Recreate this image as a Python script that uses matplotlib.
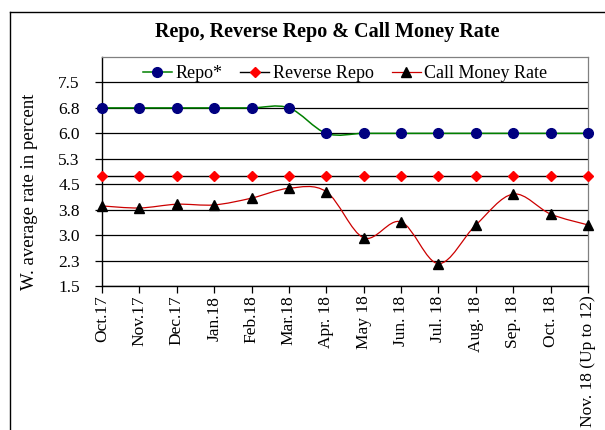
import matplotlib
matplotlib.use('Agg')
import matplotlib.pyplot as plt
from matplotlib.path import Path
from matplotlib.patches import PathPatch
from matplotlib.lines import Line2D

plt.rcParams['font.family'] = ['Liberation Serif', 'DejaVu Serif']

# datos
months = ['Oct.17', 'Nov.17', 'Dec.17', 'Jan.18', 'Feb.18', 'Mar.18', 'Apr. 18',
          'May 18', 'Jun. 18', 'Jul. 18', 'Aug. 18', 'Sep. 18', 'Oct. 18',
          'Nov. 18 (Up to 12)']
repo = [6.75, 6.75, 6.75, 6.75, 6.75, 6.75, 6.0, 6.0, 6.0, 6.0, 6.0, 6.0, 6.0, 6.0]
reverse_repo = [4.75] * 14
call_money = [3.86, 3.80, 3.91, 3.89, 4.09, 4.38, 4.28, 2.92, 3.39, 2.16, 3.30,
              4.21, 3.62, 3.30]
y_ticks = [1.5, 2.25, 3.0, 3.75, 4.5, 5.25, 6.0, 6.75, 7.5]
y_labels = ['1.5', '2.3', '3.0', '3.8', '4.5', '5.3', '6.0', '6.8', '7.5']


def smooth_path(xs, ys):
    # curva suavizada tipo Excel (Bezier con puntos de control de Catmull-Rom)
    n = len(xs)
    verts = [(xs[0], ys[0])]
    codes = [Path.MOVETO]
    for i in range(n - 1):
        i0 = max(i - 1, 0)
        i3 = min(i + 2, n - 1)
        c1 = (xs[i] + (xs[i + 1] - xs[i0]) / 6, ys[i] + (ys[i + 1] - ys[i0]) / 6)
        c2 = (xs[i + 1] - (xs[i3] - xs[i]) / 6, ys[i + 1] - (ys[i3] - ys[i]) / 6)
        verts += [c1, c2, (xs[i + 1], ys[i + 1])]
        codes += [Path.CURVE4] * 3
    return Path(verts, codes)


x = list(range(len(months)))

fig = plt.figure(figsize=(6.05, 4.3), dpi=100)
ax = fig.add_axes([102 / 605, 1 - 286 / 430, (588 - 102) / 605, (286 - 57) / 430])

for t in y_ticks:
    ax.axhline(t, color='black', lw=0.9, zorder=1)

ax.add_patch(PathPatch(smooth_path(x, repo), fill=False, edgecolor='#008000', lw=1.1, zorder=3))
ax.plot(x, repo, ls='none', marker='o', ms=7, color='#000080', zorder=4, clip_on=False)

ax.plot(x, reverse_repo, color='black', lw=1.0, zorder=3)
ax.plot(x, reverse_repo, ls='none', marker='D', ms=4.8, color='#FF0000', zorder=4, clip_on=False)

ax.add_patch(PathPatch(smooth_path(x, call_money), fill=False, edgecolor='#CC0000', lw=0.9, zorder=3))
ax.plot(x, call_money, ls='none', marker='^', ms=7, color='black', zorder=4, clip_on=False)

ax.set_xlim(0, 13)
ax.set_ylim(1.5, 8.25)
ax.set_yticks(y_ticks)
ax.set_yticklabels(y_labels, fontsize=12.5)
ax.set_xticks(x)
ax.set_xticklabels(months, rotation=90, fontsize=12.5)
ax.tick_params(axis='both', direction='out', length=5, width=0.9, color='black')
ax.tick_params(axis='y', pad=11)
ax.tick_params(axis='x', pad=2)

for s in ['top', 'right']:
    ax.spines[s].set_color('#808080')
    ax.spines[s].set_linewidth(0.9)
for s in ['left', 'bottom']:
    ax.spines[s].set_color('black')
    ax.spines[s].set_linewidth(1.0)

handles = [
    Line2D([], [], color='#008000', marker='o', ms=7, mfc='#000080', mec='#000080', lw=1.1),
    Line2D([], [], color='black', marker='D', ms=4.8, mfc='#FF0000', mec='#FF0000', lw=1.0),
    Line2D([], [], color='#CC0000', marker='^', ms=7, mfc='black', mec='black', lw=0.9),
]
ax.legend(handles, ['Repo*', 'Reverse Repo', 'Call Money Rate'], loc='upper center',
          bbox_to_anchor=(0.5, 1.0), ncol=3, frameon=False, fontsize=13,
          handlelength=1.6, handletextpad=0.2, columnspacing=1.0, borderaxespad=0.05)

fig.text(327 / 605, 1 - 32 / 430, 'Repo, Reverse Repo & Call Money Rate',
         ha='center', va='center', fontsize=14.5, fontweight='bold')
fig.text(30 / 605, 1 - 192 / 430, 'W. average rate in percent', rotation=90,
         ha='center', va='center', fontsize=13.5)

# marco exterior
fig.add_artist(Line2D([10 / 605, 1.0], [1 - 12 / 430, 1 - 12 / 430], color='black', lw=1.0))
fig.add_artist(Line2D([10 / 605, 10 / 605], [0.0, 1 - 12 / 430], color='black', lw=1.0))

fig.savefig('out.png', dpi=100)
